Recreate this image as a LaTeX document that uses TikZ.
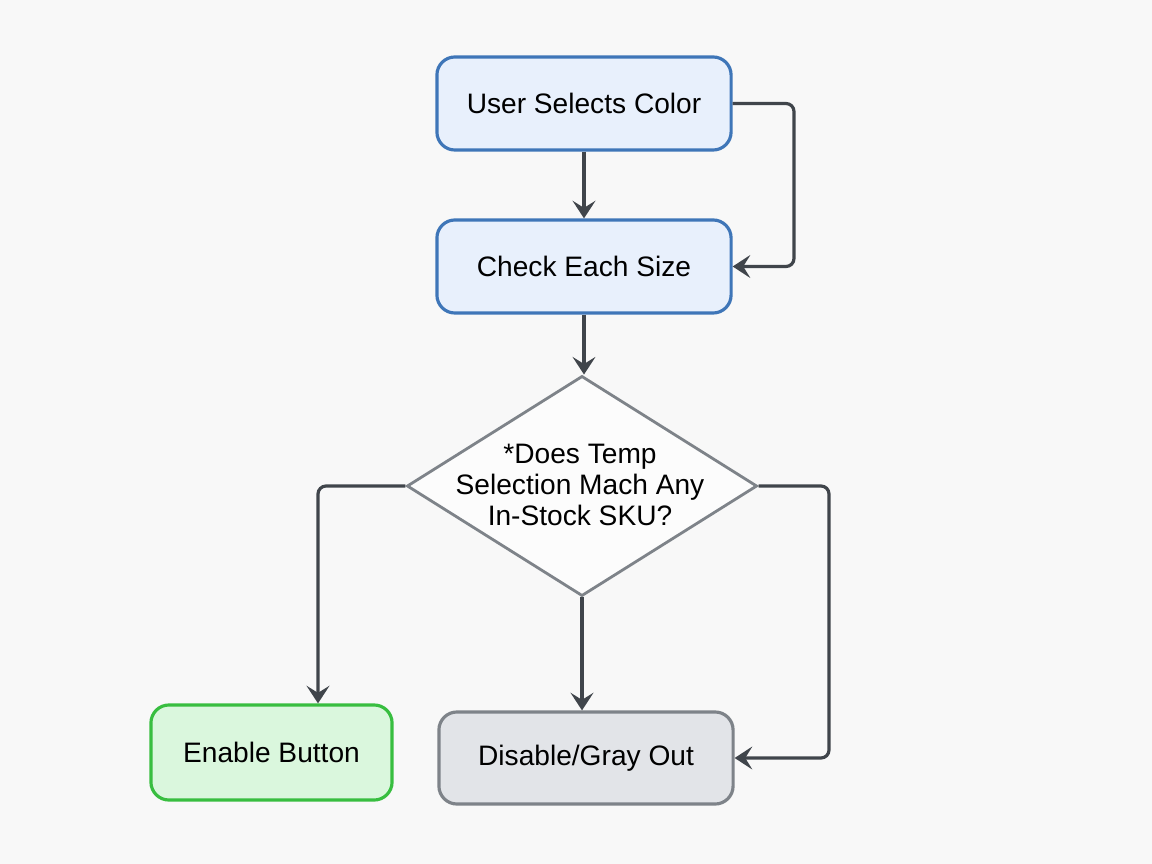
\documentclass[tikz,border=0pt]{standalone}
\usepackage{fontspec}
\setmainfont{Liberation Sans}
\usetikzlibrary{arrows.meta,shapes.geometric}
\definecolor{bgc}{HTML}{F8F8F8}
\definecolor{bluefill}{HTML}{E8F0FC}
\definecolor{blueline}{HTML}{3F76B8}
\definecolor{greenfill}{HTML}{DAF7DD}
\definecolor{greenline}{HTML}{38BE40}
\definecolor{grayfill}{HTML}{E2E4E8}
\definecolor{grayline}{HTML}{7E8389}
\definecolor{diafill}{HTML}{FCFCFC}
\definecolor{arrowc}{HTML}{40454B}
\tikzset{
  procbox/.style={draw, line width=0.9pt, rounded corners=0.18cm, minimum width=2.94cm, minimum height=0.93cm, inner sep=0pt, font=\fontsize{8}{9.6}\selectfont},
  bluebox/.style={procbox, fill=bluefill, draw=blueline},
  greenbox/.style={procbox, fill=greenfill, draw=greenline, minimum width=2.41cm, minimum height=0.95cm},
  graybox/.style={procbox, fill=grayfill, draw=grayline, minimum height=0.92cm},
  decision/.style={draw=grayline, fill=diafill, line width=0.8pt, shape=diamond, minimum width=3.5cm, minimum height=2.2cm, inner sep=0pt},
  conn/.style={draw=arrowc, line width=0.9pt, rounded corners=0.08cm, -{Stealth[length=5pt,width=6.5pt,inset=2pt]}},
}
\begin{document}
\begin{tikzpicture}[x=0.01cm,y=-0.01cm]
\fill[bgc] (0,0) rectangle (1152,864);
\useasboundingbox (0,0) rectangle (1152,864);
\node[bluebox] (usc) at (584,103.5) {User Selects Color};
\node[bluebox] (ces) at (584,266.5) {Check Each Size};
\node[decision] (dec) at (582,486) {};
\node[align=center, font=\fontsize{8}{8.8}\selectfont, inner sep=0pt] (dtext) at (580,485) {*Does Temp\\Selection Mach Any\\In-Stock SKU?};
\node[greenbox] (enb) at (271.5,752.5) {Enable Button};
\node[graybox] (dis) at (586,758) {Disable/Gray Out};
\coordinate (r1) at (794,103.5);
\coordinate (r2) at (829,486);
\coordinate (l1) at (318,486);
\draw[conn] (usc.south) -- (ces.north);
\draw[conn] (usc.east) -- (r1) |- (ces.east);
\draw[conn] (ces.south) -- (ces.south |- dec.north);
\draw[conn] (dec.west) -- (l1) -- (l1 |- enb.north);
\draw[conn] (dec.south) -- (dec.south |- dis.north);
\draw[conn] (dec.east) -- (r2) |- (dis.east);
\end{tikzpicture}
\end{document}
